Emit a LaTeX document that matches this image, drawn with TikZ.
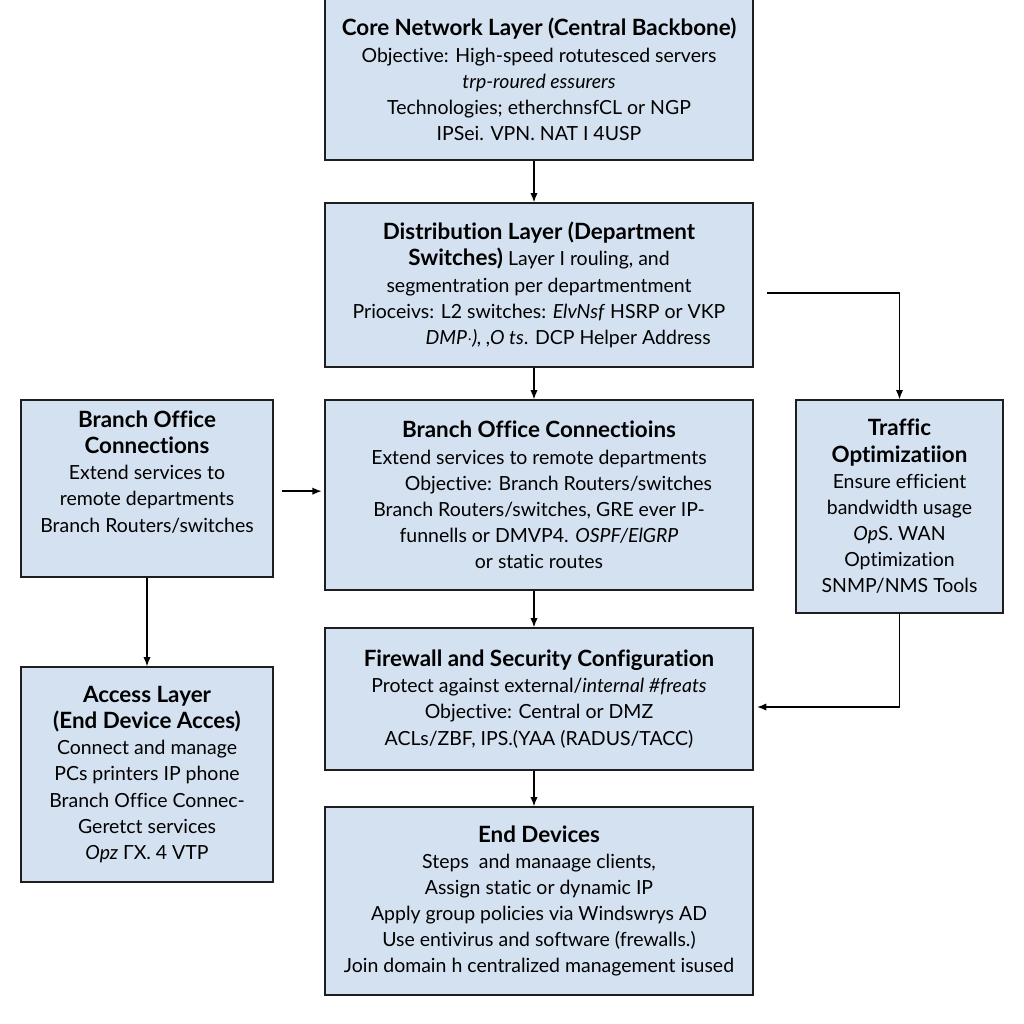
\documentclass[tikz,border=0pt]{standalone}
\usepackage{fontspec}
\setmainfont{Lato}[Ligatures=NoCommon]
\usepackage{tikz}
\usetikzlibrary{arrows.meta}

\begin{document}
\begin{tikzpicture}[x=0.75pt,y=0.75pt,yscale=-1,xscale=1,
  box/.style={draw={rgb, 255:red, 30; green, 30; blue, 30 }, line width=0.9pt,
    fill={rgb, 255:red, 212; green, 225; blue, 240 }, align=center, inner sep=0.75pt,
    font=\fontsize{14.6}{19.6}\selectfont},
  link/.style={draw={rgb, 255:red, 0; green, 0; blue, 0 }, line width=1.1pt,
    -{Latex[length=7pt,width=5.5pt]}}]
\newcommand{\hd}[1]{{\fontsize{16.8}{19.6}\selectfont\bfseries #1}}
\useasboundingbox (0,0) rectangle (1024,1024);
\fill [white] (0,0) rectangle (1024,1024);

%Core box
\node [box, minimum width=321pt, minimum height=120.75pt] (core) at (539,79.5)
  {\hd{Core Network Layer (Central Backbone)}\\
   Objective: High-speed rotutesced servers\\
   \textit{trp-roured essurers}\\
   Technologies; etherchnsfCL or NGP\\
   IPSei. VPN. NAT I 4USP};
%Distribution box
\node [box, minimum width=321pt, minimum height=123pt] (dist) at (539,285)
  {\hd{Distribution Layer (Department}\\
   \hd{Switches)} Layer I rouling, and\\
   segmentration per departmentment\\
   Prioceivs: L2 switches: \textit{ElvNsf} HSRP or VKP\\
   \hspace*{3em}\textit{DMP$\cdot$), ,O ts}. DCP Helper Address};
%Branch centre box
\node [box, minimum width=321pt, minimum height=142.5pt] (bcent) at (539,495)
  {\hd{Branch Office Connectioins}\\
   Extend services to remote departments\\
   \hspace*{2em}Objective: Branch Routers/switches\\
   Branch Routers/switches, GRE ever IP-\\
   funnells or DMVP4. \textit{OSPF/ElGRP}\\
   or static routes};
%Branch left box
\node [box, minimum width=189pt, minimum height=132.75pt] (bleft) at (147,488.5)
  {\hd{Branch Office}\\
   \hd{Connections}\\
   Extend services to\\
   remote departments\\
   Branch Routers/switches\\[6pt]};
%Traffic box
\node [box, minimum width=155.25pt, minimum height=159.75pt] (traf) at (899.5,506.5)
  {\hd{Traffic}\\
   \hd{Optimizatiion}\\
   Ensure efficient\\
   bandwidth usage\\
   \textit{Op}S. WAN\\
   Optimization\\
   SNMP/NMS Tools};
%Access box
\node [box, minimum width=189pt, minimum height=161.25pt] (access) at (147,774.5)
  {\hd{Access Layer}\\
   \hd{(End Device Acces)}\\
   Connect and manage\\
   PCs printers IP phone\\
   Branch Office Connec-\\
   Geretct services\\
   \textit{Opz} ΓX. 4 VTP};
%Firewall box
\node [box, minimum width=321pt, minimum height=106.5pt] (fire) at (539,699)
  {\hd{Firewall and Security Configuration}\\
   Protect against external/\textit{internal \#freats}\\
   Objective: Central or DMZ\\
   ACLs/ZBF, IPS.(YAA (RADUS/TACC)};
%End devices box
\node [box, minimum width=321pt, minimum height=141pt] (endd) at (539,901)
  {\hd{End Devices}\\
   Steps\ \ and manaage clients,\\
   Assign static or dynamic IP\\
   Apply group policies via Windswrys AD\\
   Use entivirus and software (frewalls.)\\
   Join domain h centralized management isused};

%Straight Lines
\draw [link] ([xshift=-3.75pt]core.south) -- ([xshift=-3.75pt]dist.north);
\draw [link] ([xshift=-3.75pt]dist.south) -- ([xshift=-3.75pt]bcent.north);
\draw [link] ([xshift=-3.75pt]bcent.south) -- ([xshift=-3.75pt]fire.north);
\draw [link] ([xshift=-3.75pt]fire.south) -- ([xshift=-3.75pt]endd.north);
\draw [link] (bleft) -- (access);
\draw [link, shorten <=6pt, shorten >=2pt] ([yshift=2pt]bleft.east) -- ([yshift=2pt]bleft.east -| bcent.west);
\coordinate (dt) at (767,293);
\draw [link] (dt) -| (traf.north);
\coordinate (tf) at (757,707);
\draw [link] (traf.south) |- (tf);

\end{tikzpicture}
\end{document}
